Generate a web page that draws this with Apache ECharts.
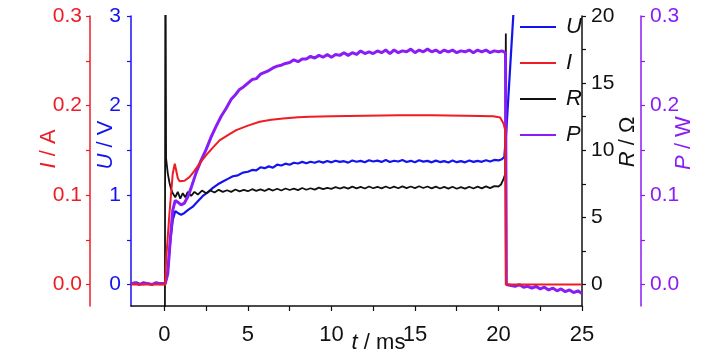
<!DOCTYPE html>
<html>
<head>
<meta charset="utf-8">
<script src="https://cdn.jsdelivr.net/npm/echarts@6/dist/echarts.min.js"></script>
<style>html,body{margin:0;padding:0;background:#fff}#c{width:728px;height:364px}</style>
</head>
<body>
<div id="c"></div>
<script>
// ---------- data ----------
var seriesNames = ['U', 'I', 'R', 'P'];
var xTickLabels = [0, 5, 10, 15, 20, 25];
var xTicks = [0, 2.5, 5, 7.5, 10, 12.5, 15, 17.5, 20, 22.5, 25];
var iTickLabels = [0, 0.1, 0.2, 0.3];
var iTicks = [0, 0.05, 0.1, 0.15, 0.2, 0.25, 0.3];
var uTickLabels = [0, 1, 2, 3];
var uTicks = [0, 0.5, 1, 1.5, 2, 2.5, 3];
var rTickLabels = [0, 5, 10, 15, 20];
var rTicks = [0, 2.5, 5, 7.5, 10, 12.5, 15, 17.5, 20];
var pTickLabels = [0, 0.1, 0.2, 0.3];
var pTicks = [0, 0.05, 0.1, 0.15, 0.2, 0.25, 0.3];

// U / V  (t in ms, U in V)
var dataU = [
[-2.0,0.005],[-1.8,0.012],[-1.65,0.022],[-1.5,0.008],[-1.25,0.004],[-1.0,0.011],[-0.75,0.003],[-0.5,0.009],[-0.25,0.004],[0.05,0.006],
[0.2,0.15],[0.35,0.48],[0.5,0.72],[0.65,0.82],[0.8,0.80],[1.0,0.78],[1.2,0.80],[1.4,0.83],[1.7,0.87],[2.0,0.93],[2.3,0.99],[2.6,1.03],
[2.9,1.08],[3.2,1.12],[3.5,1.15],[3.8,1.18],[4.1,1.21],[4.4,1.22],[4.7,1.25],[5.0,1.26],[5.25,1.28],[5.5,1.275],[5.75,1.31],[6.0,1.30],
[6.25,1.32],[6.5,1.305],[6.75,1.34],[7.0,1.33],[7.25,1.35],[7.5,1.338],[7.75,1.36],[8.0,1.352],[8.25,1.37],[8.5,1.355],[8.75,1.372],[9.0,1.36],
[9.25,1.378],[9.5,1.362],[9.75,1.38],[10.0,1.365],[10.25,1.383],[10.5,1.37],[10.75,1.378],[11.0,1.362],[11.25,1.386],[11.5,1.372],[11.75,1.381],
[12.0,1.366],[12.25,1.389],[12.5,1.374],[12.75,1.384],[13.0,1.37],[13.25,1.39],[13.5,1.368],[13.75,1.383],[14.0,1.374],[14.25,1.391],[14.5,1.369],
[14.75,1.382],[15.0,1.366],[15.25,1.388],[15.5,1.373],[15.75,1.381],[16.0,1.365],[16.25,1.384],[16.5,1.368],[16.75,1.379],[17.0,1.364],[17.25,1.385],
[17.5,1.367],[17.75,1.378],[18.0,1.365],[18.25,1.386],[18.5,1.37],[18.75,1.382],[19.0,1.371],[19.25,1.389],[19.5,1.374],[19.75,1.392],[20.0,1.386],
[20.2,1.40],[20.35,1.425],[20.42,1.44],[20.47,1.72],[20.95,3.2]
];

// I / A
var dataI = [
[-2.0,0.0],[0.05,0.0],[0.1,0.027],[0.3,0.079],[0.5,0.124],[0.62,0.135],[0.7,0.128],[0.8,0.119],[0.9,0.1155],[1.0,0.1146],[1.2,0.116],
[1.5,0.12],[1.8,0.127],[2.1,0.135],[2.5,0.1445],[2.9,0.153],[3.3,0.161],[3.8,0.167],[4.3,0.1725],[5.0,0.1775],[5.7,0.1818],[6.4,0.184],
[7.1,0.1855],[8.0,0.1868],[8.7,0.1874],[10.0,0.188],[12.0,0.1885],[14.0,0.189],[16.0,0.189],[18.0,0.1885],[19.7,0.188],[20.1,0.1866],
[20.3,0.18],[20.4,0.1725],[20.45,0.0],[22.0,0.0],[25.0,0.0]
];

// R / Ohm
var dataR = [
[0.03,-3],[0.06,28],[0.1,9.4],[0.2,8.3],[0.3,7.6],[0.4,7.1],[0.5,6.8],[0.65,6.5],[0.8,6.9],[0.95,6.4],[1.1,6.8],[1.25,6.5],[1.4,6.9],
[1.6,6.6],[1.8,6.9],[2.0,6.7],[2.25,7.0],[2.5,6.8],[2.75,7.0],[3.0,6.85],[3.25,7.05],[3.5,6.9],[3.75,7.02],[4.0,6.9],[4.25,7.08],[4.5,6.94],
[4.75,7.05],[5.0,6.95],[5.25,7.1],[5.5,6.97],[5.75,7.08],[6.0,6.97],[6.25,7.12],[6.5,7.0],[6.75,7.13],[7.0,7.0],[7.25,7.15],[7.5,7.04],
[7.75,7.14],[8.0,7.03],[8.25,7.19],[8.5,7.06],[8.75,7.17],[9.0,7.07],[9.25,7.22],[9.5,7.1],[9.75,7.2],[10.0,7.12],[10.25,7.26],[10.5,7.15],
[10.75,7.25],[11.0,7.14],[11.25,7.29],[11.5,7.16],[11.75,7.27],[12.0,7.15],[12.25,7.3],[12.5,7.17],[12.75,7.28],[13.0,7.16],[13.25,7.3],
[13.5,7.17],[13.75,7.29],[14.0,7.17],[14.25,7.31],[14.5,7.18],[14.75,7.3],[15.0,7.18],[15.25,7.32],[15.5,7.19],[15.75,7.3],[16.0,7.16],
[16.25,7.29],[16.5,7.15],[16.75,7.27],[17.0,7.14],[17.25,7.28],[17.5,7.13],[17.75,7.26],[18.0,7.14],[18.25,7.28],[18.5,7.15],[18.75,7.29],
[19.0,7.16],[19.25,7.31],[19.5,7.18],[19.75,7.33],[20.0,7.3],[20.15,7.45],[20.3,7.85],[20.4,8.2],[20.44,18.7],[20.47,0.0]
];

// P / W
var dataP = [
[-2.0,0.001],[-1.75,0.002],[-1.5,0.0],[-1.25,0.002],[-1.0,0.001],[-0.75,0.0],[-0.5,0.002],[-0.25,0.001],[0.05,0.001],
[0.2,0.012],[0.35,0.05],[0.5,0.083],[0.65,0.094],[0.8,0.092],[1.0,0.089],[1.2,0.091],[1.4,0.098],[1.6,0.108],[1.9,0.125],[2.2,0.139],
[2.5,0.151],[2.8,0.165],[3.1,0.177],[3.4,0.188],[3.7,0.197],[4.0,0.207],[4.25,0.212],[4.5,0.218],[4.75,0.221],[5.0,0.225],[5.25,0.229],
[5.5,0.230],[5.75,0.235],[6.0,0.237],[6.25,0.239],[6.5,0.242],[6.75,0.244],[7.0,0.245],[7.25,0.247],[7.5,0.248],[7.75,0.251],[8.0,0.249],
[8.25,0.252],[8.5,0.252],[8.75,0.255],[9.0,0.253],[9.25,0.256],[9.5,0.254],[9.75,0.257],[10.0,0.254],[10.25,0.257],[10.5,0.256],[10.75,0.259],
[11.0,0.256],[11.25,0.259],[11.5,0.257],[11.75,0.261],[12.0,0.258],[12.25,0.260],[12.5,0.258],[12.75,0.261],[13.0,0.259],[13.25,0.262],
[13.5,0.258],[13.75,0.262],[14.0,0.259],[14.25,0.261],[14.5,0.260],[14.75,0.263],[15.0,0.259],[15.25,0.262],[15.5,0.260],[15.75,0.263],
[16.0,0.260],[16.25,0.262],[16.5,0.259],[16.75,0.262],[17.0,0.260],[17.25,0.262],[17.5,0.259],[17.75,0.261],[18.0,0.260],[18.25,0.262],
[18.5,0.259],[18.75,0.262],[19.0,0.260],[19.25,0.262],[19.5,0.259],[19.75,0.261],[20.0,0.260],[20.2,0.261],[20.42,0.259],[20.47,0.0],
[20.75,-0.001],[21.0,-0.002],[21.25,0.0],[21.5,-0.003],[21.75,-0.002],[22.0,-0.004],[22.25,-0.002],[22.5,-0.005],[22.75,-0.003],[23.0,-0.006],
[23.25,-0.004],[23.5,-0.007],[23.75,-0.005],[24.0,-0.008],[24.25,-0.006],[24.5,-0.009],[24.75,-0.007],[25.0,-0.010]
];

// ---------- chart ----------
var FONT = "'Liberation Sans', Arial, sans-serif";
var RED = '#ee1c24', BLUE = '#1414ee', BLACK = '#111111', PURPLE = '#8a1cf5';

function yAxisDef(o) {
  return {
    type: 'value', position: o.pos, offset: o.offset, min: o.min, max: o.max,
    name: o.name, nameLocation: 'middle', nameGap: o.gap, nameRotate: 90, nameMoveOverlap: false,
    nameTextStyle: { color: o.color, fontFamily: FONT, fontSize: 22, padding: o.pad,
      rich: { it: { fontStyle: 'italic', fontFamily: FONT, fontSize: 22, color: o.color } } },
    axisLine: { show: true, onZero: false, lineStyle: { color: o.color, width: 1.5 } },
    axisTick: { show: true, inside: false, length: 4, customValues: o.ticks, lineStyle: { color: o.color, width: 1.2 } },
    axisLabel: { show: true, margin: o.margin, customValues: o.labels, color: o.color, fontFamily: FONT, fontSize: 21,
      formatter: o.fmt },
    splitLine: { show: false }
  };
}

var chart = echarts.init(document.getElementById('c'), null, { renderer: 'canvas' });
chart.setOption({
  animation: false,
  backgroundColor: '#ffffff',
  grid: { left: 131, right: 146, top: 16, bottom: 58, containLabel: false },
  legend: {
    orient: 'vertical', left: 515, top: 10, itemWidth: 36, itemHeight: 2, itemGap: 12, icon: 'rect',
    data: seriesNames,
    textStyle: { fontFamily: FONT, fontSize: 22, fontStyle: 'italic', color: '#111', lineHeight: 24, padding: [0, 0, 0, 5] }
  },
  xAxis: {
    type: 'value', min: -2, max: 25,
    name: '{it|t} / ms', nameLocation: 'middle', nameGap: 26, nameMoveOverlap: false,
    nameTextStyle: { color: BLACK, fontFamily: FONT, fontSize: 22, padding: [0, 0, 0, 44],
      rich: { it: { fontStyle: 'italic', fontFamily: FONT, fontSize: 22, color: BLACK } } },
    axisLine: { show: true, onZero: false, lineStyle: { color: BLACK, width: 1.5 } },
    axisTick: { show: true, length: 5, customValues: xTicks, lineStyle: { color: BLACK, width: 1.2 } },
    axisLabel: { customValues: xTickLabels, color: BLACK, fontFamily: FONT, fontSize: 22, margin: 18 },
    splitLine: { show: false }
  },
  yAxis: [
    yAxisDef({ pos: 'left', offset: 41, min: -0.024, max: 0.3, name: '{it|I} / A', gap: 30, color: RED, pad: [0, 0, 0, 24],
      ticks: iTicks, labels: iTickLabels, margin: 8, fmt: function (v) { return v.toFixed(1); } }),
    yAxisDef({ pos: 'left', offset: 0, min: -0.24, max: 3, name: '{it|U} / V', gap: 14, color: BLUE, pad: [0, 0, 0, 32],
      ticks: uTicks, labels: uTickLabels, margin: 10, fmt: function (v) { return String(v); } }),
    yAxisDef({ pos: 'right', offset: 0, min: -1.6, max: 20, name: '{it|R} / Ω', gap: 35, color: BLACK, pad: [0, 0, 0, 38],
      ticks: rTicks, labels: rTickLabels, margin: 9, fmt: function (v) { return String(v); } }),
    yAxisDef({ pos: 'right', offset: 59, min: -0.024, max: 0.3, name: '{it|P} / W', gap: 32, color: PURPLE, pad: [0, 0, 0, 36],
      ticks: pTicks, labels: pTickLabels, margin: 9, fmt: function (v) { return v.toFixed(1); } })
  ],
  series: [
    { name: 'U', type: 'line', yAxisIndex: 1, data: dataU, symbol: 'none', showSymbol: false, z: 2,
      color: BLUE, lineStyle: { color: BLUE, width: 2.2 } },
    { name: 'I', type: 'line', yAxisIndex: 0, data: dataI, symbol: 'none', showSymbol: false, z: 3,
      color: RED, lineStyle: { color: RED, width: 2 } },
    { name: 'R', type: 'line', yAxisIndex: 2, data: dataR, symbol: 'none', showSymbol: false, z: 2,
      color: BLACK, lineStyle: { color: BLACK, width: 1.8 } },
    { name: 'P', type: 'line', yAxisIndex: 3, data: dataP, symbol: 'none', showSymbol: false, z: 2,
      color: PURPLE, lineStyle: { color: PURPLE, width: 3 } }
  ]
});
</script>
</body>
</html>
